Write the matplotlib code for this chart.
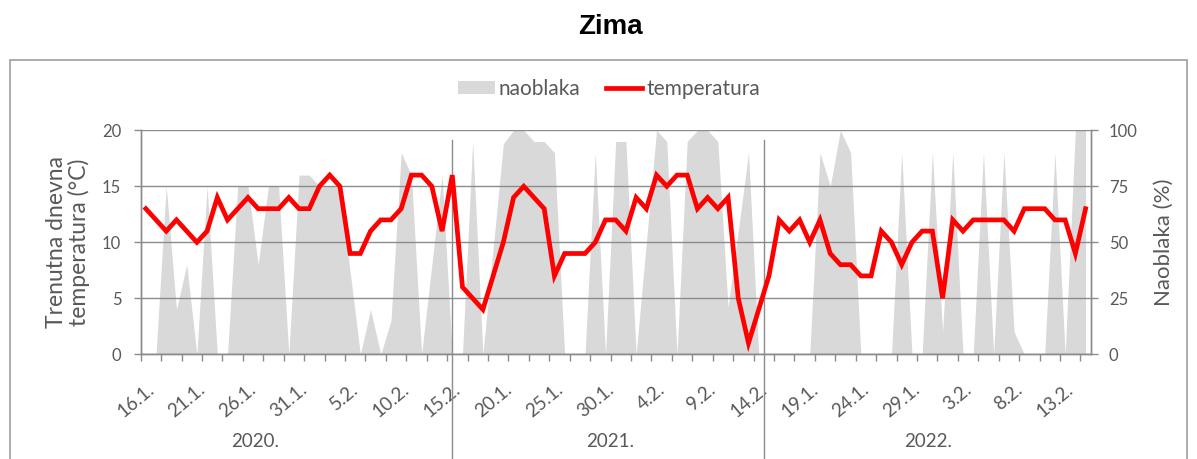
import matplotlib
matplotlib.use("Agg")
import matplotlib.pyplot as plt
import matplotlib.transforms as mtransforms
from matplotlib.lines import Line2D
from matplotlib.patches import Patch, Rectangle
import numpy as np

# ---------------- data ----------------
title = "Zima"
years = ["2020.", "2021.", "2022."]

# daily temperature (°C), 16.1. - 15.2. for each winter
temp_2020 = [13, 12, 11, 12, 11, 10, 11, 14, 12, 13, 14, 13, 13, 13, 14, 13,
             13, 15, 16, 15, 9, 9, 11, 12, 12, 13, 16, 16, 15, 11, 16]
temp_2021 = [6, 5, 4, 7, 10, 14, 15, 14, 13, 7, 9, 9, 9, 10, 12, 12,
             11, 14, 13, 16, 15, 16, 16, 13, 14, 13, 14, 5, 1, 4, 7]
temp_2022 = [12, 11, 12, 10, 12, 9, 8, 8, 7, 7, 11, 10, 8, 10, 11, 11,
             5, 12, 11, 12, 12, 12, 12, 11, 13, 13, 13, 12, 12, 9, 13]

# cloud cover (%)
cloud_2020 = [0, 0, 75, 20, 40, 0, 75, 0, 0, 75, 75, 40, 75, 75, 0, 80,
              80, 75, 75, 75, 37, 0, 20, 0, 15, 90, 80, 0, 40, 80, 0]
cloud_2021 = [0, 95, 0, 47, 94, 100, 100, 95, 95, 90, 0, 0, 0, 90, 0, 95,
              95, 0, 50, 100, 95, 0, 95, 100, 100, 95, 21, 55, 90, 0, 0]
cloud_2022 = [0, 0, 0, 0, 90, 75, 100, 90, 0, 0, 0, 0, 90, 0, 0, 90,
              10, 90, 0, 0, 90, 0, 90, 10, 0, 0, 0, 90, 0, 100, 100]

# date labels shown on the axis (every 5th day)
tick_labels = ["16.1.", "21.1.", "26.1.", "31.1.", "5.2.", "10.2.", "15.2.",
               "20.1.", "25.1.", "30.1.", "4.2.", "9.2.", "14.2.",
               "19.1.", "24.1.", "29.1.", "3.2.", "8.2.", "13.2."]

series_cloud = "naoblaka"
series_temp = "temperatura"
ylabel_left = "Trenutna dnevna\ntemperatura (°C)"
ylabel_right = "Naoblaka (%)"

# ---------------- build ----------------
temps = temp_2020 + temp_2021 + temp_2022
clouds = cloud_2020 + cloud_2021 + cloud_2022
n = len(temps)
x = np.arange(n)

W, H = 1197, 459
fig = plt.figure(figsize=(W / 100, H / 100), dpi=100)
plt.rcParams["font.family"] = ["Lato", "DejaVu Sans"]
TXT = "#595959"
GRID = "#8c8c8c"

left, right = 140.7 / W, 1090.7 / W
top, bottom = 1 - 130.3 / H, 1 - 354.3 / H
ax = fig.add_axes([left, bottom, right - left, top - bottom])  # cloud axis (right)
ax2 = ax.twinx()  # temperature axis (left)

# cloud area
ax.fill_between(x, clouds, 0, color="#d9d9d9", lw=0, zorder=1)
ax.set_ylim(0, 100)
ax.set_xlim(-0.5, n - 0.5)
ax.yaxis.tick_right()
ax.yaxis.set_label_position("right")
ax.set_yticks([0, 25, 50, 75, 100])
ax.set_axisbelow(False)
ax.grid(axis="y", color=GRID, lw=1.0, zorder=2)
ax.grid(axis="x", visible=False)

# temperature line
ax2.plot(x, temps, color="#ff0000", lw=3.4, solid_joinstyle="miter", zorder=5)
ax2.set_ylim(0, 20)
ax2.set_yticks([0, 5, 10, 15, 20])
ax2.yaxis.tick_left()
ax2.yaxis.set_label_position("left")

for a in (ax, ax2):
    a.spines["top"].set_visible(False)
    for s in ("left", "right", "bottom"):
        a.spines[s].set_color(GRID)
        a.spines[s].set_linewidth(1.0)

ax.tick_params(axis="y", direction="out", length=5, width=1, color=GRID,
               labelsize=12, labelcolor=TXT, pad=8)
ax2.tick_params(axis="y", direction="out", length=5, width=1, color=GRID,
                labelsize=12, labelcolor=TXT, pad=9)

# x ticks: marks every 2 categories, labels every 5 categories
ax.set_xticks(np.arange(-0.5, n, 2), minor=True)
ax.set_xticks([])
ax.tick_params(axis="x", which="minor", direction="out", length=5, width=1,
               color=GRID)
trans = mtransforms.blended_transform_factory(ax.transData, ax.transAxes)
for lab, pos in zip(tick_labels, range(0, n, 5)):
    ax.text(pos + 0.55, -0.148, lab, transform=trans, rotation=40,
            rotation_mode="anchor", ha="right", va="center", fontsize=13.5,
            color=TXT)

# year group labels and dividers
year_pos = [10.7, 45.5, 76.6]
for yr, p in zip(years, year_pos):
    ax.text(p, -0.39, yr, transform=trans, ha="center", va="center",
            fontsize=13.5, color=TXT)
for d in (30.02, 60.52):
    ax.add_line(Line2D([d, d], [0.957, -0.5], transform=trans, color=GRID,
                       lw=1.0, clip_on=False, zorder=3))

ax2.set_ylabel(ylabel_left, fontsize=16.5, color=TXT, labelpad=9,
               linespacing=1.05)
ax.set_ylabel(ylabel_right, fontsize=16, color=TXT, labelpad=12)

# title
fig.text(610 / W, 1 - 27 / H, title, ha="center", va="center", fontsize=20,
         fontweight="bold", family="Liberation Sans", color="black")

# outer frame
fig.patches.append(Rectangle((9.5 / W, -0.05), (1187 - 9.5) / W,
                             1 - 60 / H + 0.05, transform=fig.transFigure,
                             fill=False, edgecolor="#a6a6a6", lw=1.3))

# legend
handles = [Patch(facecolor="#d9d9d9", edgecolor="none"),
           Line2D([], [], color="#ff0000", lw=3.4)]
fig.legend(handles, [series_cloud, series_temp], loc="center",
           bbox_to_anchor=(609 / W, 1 - 89 / H), ncol=2, frameon=False,
           fontsize=15, labelcolor=TXT, handlelength=1.75, handleheight=0.6,
           handletextpad=0.2, columnspacing=1.2)

fig.savefig("out.png", dpi=100)
